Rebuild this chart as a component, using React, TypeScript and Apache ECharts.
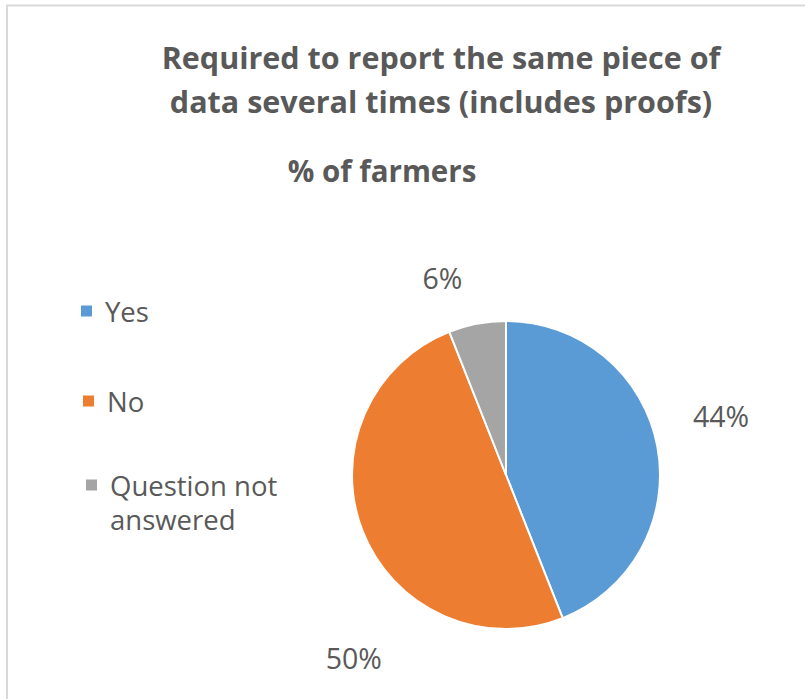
import React, { useEffect, useRef } from 'react';
import * as echarts from 'echarts';

const categories = ['Yes', 'No', 'Question not answered'];
const values = [44, 50, 6];
const sliceColors = ['#5B9BD5', '#ED7D31', '#A5A5A5'];
const titleLines = ['Required to report the same piece of', 'data several times (includes proofs)'];
const subtitleText = '% of farmers';
const legendLabels = ['Yes', 'No', '\nQuestion not\nanswered'];

// styling: offsets of the data labels from their default outside position
const labelShift: number[][] = [[16, -27], [38, 121], [-7, -31]];

const FONT = "'Open Sans', sans-serif";
const TEXT_COLOR = '#595959';

export default function App() {
  const ref = useRef<HTMLDivElement>(null);
  useEffect(() => {
    if (!ref.current) return;
    const chart = echarts.init(ref.current, undefined, { renderer: 'svg' });
    const legendText = {
      fontSize: 27.5,
      lineHeight: 34,
      color: TEXT_COLOR,
      fontFamily: FONT,
      padding: [0, 0, 0, 7],
    };
    const legendBase = {
      orient: 'vertical',
      itemWidth: 13,
      itemHeight: 13,
      icon: 'rect',
      padding: 0,
      selectedMode: false,
      textStyle: legendText,
    };
    const titleStyle = (text: string) => ({
      text,
      align: 'center',
      verticalAlign: 'middle',
      fontSize: 30.5,
      fontWeight: 'bold',
      fontFamily: FONT,
      fill: TEXT_COLOR,
    });
    chart.setOption({
      animation: false,
      backgroundColor: '#ffffff',
      graphic: [
        {
          type: 'rect',
          shape: { x: 7, y: 5.5, width: 900, height: 800 },
          style: { fill: 'none', stroke: '#d9d9d9', lineWidth: 2 },
          silent: true,
        },
        { type: 'text', x: 441, y: 57, style: titleStyle(titleLines[0]) },
        { type: 'text', x: 441, y: 101, style: titleStyle(titleLines[1]) },
        { type: 'text', x: 382, y: 170, style: { ...titleStyle(subtitleText), fontSize: 29.5 } },
      ],
      legend: [
        { ...legendBase, data: [categories[0]], left: 79, top: 294, formatter: () => legendLabels[0] },
        { ...legendBase, data: [categories[1]], left: 81, top: 384, formatter: () => legendLabels[1] },
        { ...legendBase, data: [categories[2]], left: 84, top: 434, formatter: () => legendLabels[2] },
      ],
      series: [
        {
          type: 'pie',
          center: [506, 475],
          radius: 154,
          startAngle: 90,
          clockwise: true,
          data: categories.map((name, i) => ({
            name,
            value: values[i],
            itemStyle: { color: sliceColors[i] },
          })),
          itemStyle: { borderColor: '#ffffff', borderWidth: 2 },
          label: {
            show: true,
            position: 'outside',
            formatter: '{c}%',
            fontSize: 28.5,
            fontFamily: FONT,
            color: TEXT_COLOR,
            distanceToLabelLine: 5,
          },
          labelLine: { show: false, length: 15, length2: 0 },
          labelLayout: (params: any) => {
            const s = labelShift[params.dataIndex];
            return { dx: s[0], dy: s[1] };
          },
          emphasis: { disabled: true },
        },
      ],
    });
    return () => chart.dispose();
  }, []);
  return (
    <div
      ref={ref}
      style={{ position: 'fixed', left: 0, top: 0, width: 805, height: 699 }}
    />
  );
}
